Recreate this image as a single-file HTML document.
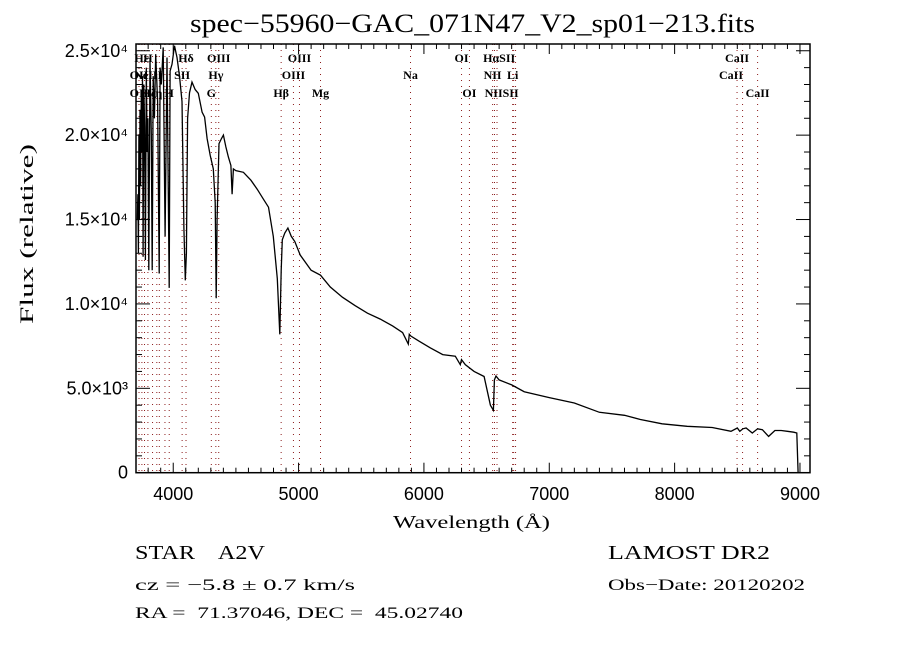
<!DOCTYPE html>
<html><head><meta charset="utf-8"><style>
html,body{margin:0;padding:0;background:#fff;}
svg{display:block;}
.t{font-family:"Liberation Serif",serif;fill:#000;white-space:pre;}
.s{font-family:"Liberation Sans",sans-serif;fill:#000;}
</style></head><body>
<svg id="chart" width="900" height="650" xmlns="http://www.w3.org/2000/svg">
<text class="t" x="190" y="32" font-size="26" textLength="565" lengthAdjust="spacingAndGlyphs">spec−55960−GAC_071N47_V2_sp01−213.fits</text>
<g id="lines"></g>
<g id="axes"></g>
<g id="series"></g>
<text class="t" x="393" y="528" font-size="18" textLength="157" lengthAdjust="spacingAndGlyphs">Wavelength (Å)</text>
<text class="t" transform="translate(33,324) rotate(-90)" font-size="19" textLength="180" lengthAdjust="spacingAndGlyphs">Flux (relative)</text>
<text class="t" x="135" y="559" font-size="20" textLength="130" lengthAdjust="spacingAndGlyphs">STAR    A2V</text>
<text class="t" x="135" y="590" font-size="16" textLength="220" lengthAdjust="spacingAndGlyphs">cz = −5.8 ± 0.7 km/s</text>
<text class="t" x="135" y="618" font-size="16" textLength="328" lengthAdjust="spacingAndGlyphs">RA =  71.37046, DEC =  45.02740</text>
<text class="t" x="608" y="559" font-size="20" textLength="162" lengthAdjust="spacingAndGlyphs">LAMOST DR2</text>
<text class="t" x="608" y="590" font-size="16" textLength="197" lengthAdjust="spacingAndGlyphs">Obs−Date: 20120202</text>
</svg>
<script>
const wavelengths=[3713,3718,3722,3726,3730,3735,3740,3745,3750,3755,3760,3765,3772,3778,3785,3792,3798,3805,3815,3825,3832,3840,3850,3860,3875,3888,3895,3905,3920,3935,3950,3968,3975,3990,4010,4030,4050,4070,4085,4096,4105,4115,4130,4150,4175,4200,4230,4250,4270,4295,4320,4335,4343,4350,4365,4385,4400,4420,4440,4460,4470,4480,4500,4560,4620,4670,4720,4760,4798,4830,4850,4861,4870,4890,4915,4942,4970,5013,5100,5175,5253,5350,5450,5550,5652,5750,5830,5875,5883,5895,5960,6050,6150,6250,6290,6300,6330,6400,6480,6530,6554,6562,6575,6600,6700,6800,7000,7200,7400,7600,7727,7900,8100,8300,8450,8500,8520,8545,8570,8620,8662,8700,8750,8800,8850,8900,8950,8975,8985,8990];
const fluxes=[14960,16500,13000,20000,15000,21500,17000,22500,19000,23500,12800,23000,20500,12600,24000,19000,21000,12000,24500,20000,12000,23500,21000,24800,22000,11800,24000,23000,25200,14000,24600,10950,23800,24200,25300,24600,23500,22000,14500,11400,13000,21000,22500,23140,22700,22480,21360,21070,19800,18800,18000,16000,10340,15000,19500,19800,20000,19300,18700,18200,16500,18000,17900,17800,17330,16800,16200,15730,14000,11500,8200,12000,13800,14200,14500,14000,13700,12900,12000,11700,11000,10400,9900,9450,9100,8700,8300,7620,8200,8100,7800,7400,7000,6900,6400,6700,6400,6000,5700,4000,3700,5500,5730,5500,5200,4800,4450,4130,3580,3400,3150,2900,2750,2680,2450,2650,2450,2600,2650,2350,2600,2550,2150,2500,2500,2450,2400,2350,0];
const xTicks=[4000,5000,6000,7000,8000,9000];
const yTicks=[0,5000,10000,15000,20000,25000];
const yTickLabels=["0","5.0×10³","1.0×10⁴","1.5×10⁴","2.0×10⁴","2.5×10⁴"];
const lineWaves=[3727,3750,3771,3798,3835,3869,3889,3934,3968,4071,4102,4304,4340,4363,4861,4959,5007,5175,5893,6300,6363,6548,6563,6583,6708,6716,6731,8498,8542,8662];
const lineLabels=[["Hε",3748,57],["H",3798,57],["Hδ",4102,57],["OIII",4363,57],["OIII",5007,57],["OI",6300,57],["HαSII",6600,57],["CaII",8498,57],
["OII",3727,74],["NeIII",3800,74],["SII",4071,74],["Hγ",4340,74],["OIII",4959,74],["Na",5893,74],["NII",6548,74],["Li",6708,74],["CaII",8450,74],
["OII",3727,92],["Hζη",3830,92],["H",3968,92],["G",4304,92],["Hβ",4861,92],["Mg",5175,92],["OI",6363,92],["NIISII",6620,92],["CaII",8662,92]];
const X0=136,X1=810,Y0=472.7,Y1=44,WMIN=3703,WMAX=9080;
const xs=w=>X0+(w-WMIN)/(WMAX-WMIN)*(X1-X0);
const ys=f=>Y0-f/25400*(Y0-Y1);
const NS="http://www.w3.org/2000/svg";
function mk(t,a,p){const e=document.createElementNS(NS,t);for(const k in a)e.setAttribute(k,a[k]);p.appendChild(e);return e;}
const gl=document.getElementById('lines'),ga=document.getElementById('axes'),gs=document.getElementById('series');
lineWaves.forEach(w=>{const e=mk('line',{x1:xs(w),x2:xs(w),y1:Y1,y2:Y0,stroke:'#8b1a1a','stroke-width':1,'stroke-dasharray':'1,5'},gl);

});
lineLabels.forEach(l=>{const e=mk('text',{x:xs(l[1]),y:l[2]+5,'font-size':12,'text-anchor':'middle','font-weight':'bold',class:'t'},gl);e.textContent=l[0];

});
const fr=mk('rect',{x:X0,y:Y1,width:X1-X0,height:Y0-Y1,fill:'none',stroke:'#000','stroke-width':1.5},ga);


for(let w=3800;w<=9000;w+=100){const big=w%1000===0,L=big?10:5;
mk('line',{x1:xs(w),x2:xs(w),y1:Y0,y2:Y0-L,stroke:'#000'},ga);mk('line',{x1:xs(w),x2:xs(w),y1:Y1,y2:Y1+L,stroke:'#000'},ga);}
xTicks.forEach(w=>{const e=mk('text',{x:xs(w),y:500,'font-size':18,'text-anchor':'middle',class:'s'},ga);e.textContent=w;

});
for(let f=1000;f<=25000;f+=1000){const big=f%5000===0,L=big?14:6;
mk('line',{x1:X0,x2:X0+L,y1:ys(f),y2:ys(f),stroke:'#000'},ga);mk('line',{x1:X1,x2:X1-L,y1:ys(f),y2:ys(f),stroke:'#000'},ga);}
yTicks.forEach((f,i)=>{const e=mk('text',{x:128,y:ys(f)+6,'font-size':18,'text-anchor':'end',class:'s'},ga);e.textContent=yTickLabels[i];

});
const pts=wavelengths.map((w,i)=>xs(w).toFixed(1)+','+Math.max(ys(fluxes[i]),Y1).toFixed(1)).join(' ');
const pl=mk('polyline',{points:pts,fill:'none',stroke:'#000','stroke-width':1.3,'stroke-linejoin':'miter'},gs);


</script>
</body></html>
